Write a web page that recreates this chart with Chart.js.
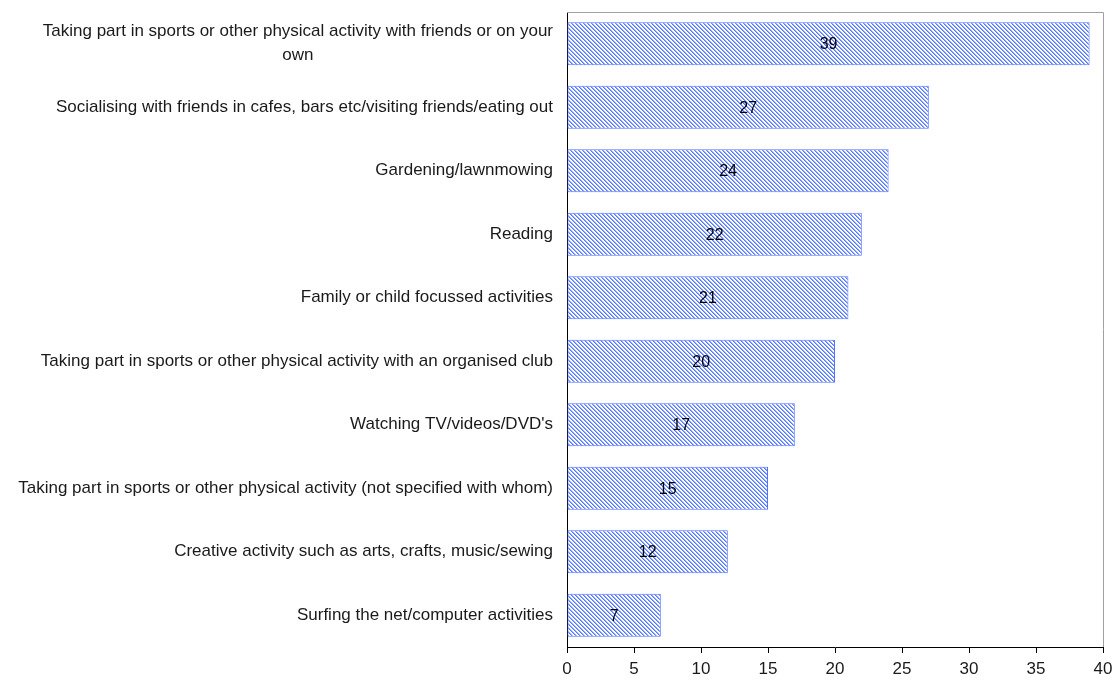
<!DOCTYPE html>
<html>
<head>
<meta charset="utf-8">
<script src="https://cdn.jsdelivr.net/npm/chart.js@4/dist/chart.umd.min.js"></script>
<style>
  html, body { margin: 0; padding: 0; background: #fff; }
  #wrap { width: 1113px; height: 682px; position: relative; }
</style>
</head>
<body>
<div id="wrap"><canvas id="c" width="1113" height="682"></canvas></div>
<script>
// Leisure activities, percentage of respondents
const categories = [
  ["Taking part in sports or other physical activity with friends or on your", "own"],
  "Socialising with friends in cafes, bars etc/visiting friends/eating out",
  "Gardening/lawnmowing",
  "Reading",
  "Family or child focussed activities",
  "Taking part in sports or other physical activity with an organised club",
  "Watching TV/videos/DVD's",
  "Taking part in sports or other physical activity (not specified with whom)",
  "Creative activity such as arts, crafts, music/sewing",
  "Surfing the net/computer activities"
];
const values = [39, 27, 24, 22, 21, 20, 17, 15, 12, 7];
const xTicks = [0, 5, 10, 15, 20, 25, 30, 35, 40];

const FONT = "'Liberation Sans', Arial, sans-serif";
const BLUE = "rgb(80,115,255)";

// diagonal hatch fill, stripes running top-left to bottom-right
function hatch() {
  const t = document.createElement('canvas');
  t.width = 4; t.height = 4;
  const g = t.getContext('2d');
  g.fillStyle = '#fff';
  g.fillRect(0, 0, 4, 4);
  for (let i = 0; i < 4; i++) {
    g.fillStyle = 'rgb(85,118,255)';
    g.fillRect(i, i, 1, 1);
    g.fillStyle = 'rgb(150,172,255)';
    g.fillRect((i + 1) % 4, i, 1, 1);
  }
  return document.getElementById('c').getContext('2d').createPattern(t, 'repeat');
}

// frame: grey top and right edges
const framePlugin = {
  id: 'frame',
  afterDatasetsDraw(chart) {
    const { ctx, chartArea: a } = chart;
    ctx.save();
    ctx.strokeStyle = '#a0a0a0';
    ctx.lineWidth = 1;
    ctx.beginPath();
    ctx.moveTo(a.left, a.top + 0.5);
    ctx.lineTo(a.right + 0.5, a.top + 0.5);
    ctx.lineTo(a.right + 0.5, a.bottom);
    ctx.stroke();
    ctx.restore();
  }
};

// category labels: right-aligned block, wrapped lines centred within it
const catLabels = {
  id: 'catLabels',
  afterDraw(chart) {
    const { ctx } = chart;
    const y = chart.scales.y;
    const right = y.right - 14;
    ctx.save();
    ctx.font = '17px ' + FONT;
    ctx.fillStyle = '#1a1a1a';
    ctx.textBaseline = 'middle';
    ctx.textAlign = 'center';
    categories.forEach((lab, i) => {
      const lines = Array.isArray(lab) ? lab : [lab];
      const cy = y.getPixelForValue(i);
      const lh = 24;
      const maxW = Math.max(...lines.map(l => ctx.measureText(l).width));
      const centre = right - maxW / 2;
      const y0 = cy - (lines.length - 1) * lh / 2;
      lines.forEach((l, k) => ctx.fillText(l, centre, y0 + k * lh));
    });
    ctx.restore();
  }
};

// value labels in the middle of each bar
const valueLabels = {
  id: 'valueLabels',
  afterDatasetsDraw(chart) {
    const { ctx } = chart;
    const meta = chart.getDatasetMeta(0);
    ctx.save();
    ctx.font = '16px ' + FONT;
    ctx.fillStyle = '#000';
    ctx.textAlign = 'center';
    ctx.textBaseline = 'middle';
    meta.data.forEach((bar, i) => {
      const p = bar.getProps(['x', 'y', 'base'], true);
      ctx.fillText(String(values[i]), (p.x + p.base) / 2, p.y + 1);
    });
    ctx.restore();
  }
};

new Chart(document.getElementById('c'), {
  type: 'bar',
  data: {
    labels: categories.map(l => Array.isArray(l) ? l.join(' ') : l),
    datasets: [{
      data: values,
      backgroundColor: hatch(),
      borderColor: BLUE,
      borderWidth: 1,
      borderSkipped: false,
      categoryPercentage: 1,
      barPercentage: 0.68
    }]
  },
  options: {
    indexAxis: 'y',
    responsive: false,
    animation: false,
    devicePixelRatio: 1,
    layout: { padding: { top: 12, right: 10, left: 0, bottom: 0 } },
    plugins: { legend: { display: false }, tooltip: { enabled: false } },
    scales: {
      x: {
        min: 0, max: 40,
        afterBuildTicks(s) { s.ticks = xTicks.map(v => ({ value: v })); },
        afterFit(s) { s.height = 35; s.paddingLeft = 0; s.paddingRight = 0; },
        border: { color: '#000', width: 1 },
        grid: { drawOnChartArea: false, drawTicks: true, tickLength: 6, color: '#000' },
        ticks: { color: '#1a1a1a', font: { family: FONT, size: 17 }, padding: 6, maxRotation: 0 }
      },
      y: {
        afterFit(s) { s.width = 567; s.paddingTop = 0; s.paddingBottom = 0; },
        border: { color: '#000', width: 1 },
        grid: { display: false },
        ticks: { display: false }
      }
    }
  },
  plugins: [framePlugin, catLabels, valueLabels]
});
</script>
</body>
</html>
